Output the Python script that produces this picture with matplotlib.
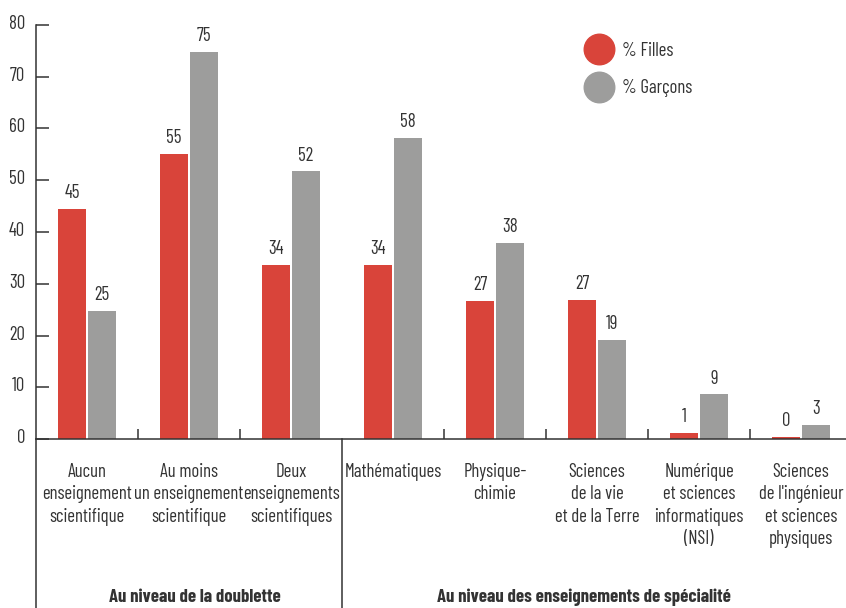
import matplotlib
matplotlib.use("Agg")
import matplotlib.pyplot as plt
from matplotlib.lines import Line2D
from matplotlib.transforms import ScaledTranslation

plt.rcParams['font.family'] = ['Barlow Condensed', 'DejaVu Sans']

categories = ["Aucun\nenseignement\nscientifique",
              "Au moins\nun enseignement\nscientifique",
              "Deux\nenseignements\nscientifiques",
              "Mathématiques",
              "Physique-\nchimie",
              "Sciences\nde la vie\net de la Terre",
              "Numérique\net sciences\ninformatiques\n(NSI)",
              "Sciences\nde l'ingénieur\net sciences\nphysiques"]
filles = [44.4, 55.1, 33.6, 33.6, 26.7, 26.8, 1.2, 0.4]
garcons = [24.7, 74.8, 51.7, 58.1, 37.8, 19.2, 8.6, 2.7]
filles_lab = ["45", "55", "34", "34", "27", "27", "1", "0"]
garcons_lab = ["25", "75", "52", "58", "38", "19", "9", "3"]
groups = ["Au niveau de la doublette", "Au niveau des enseignements de spécialité"]

RED = "#d9443a"
GREY = "#9d9d9c"
TXT = "#333333"
FS = 13.5

W, H = 846, 608
fig = plt.figure(figsize=(W / 100, H / 100), dpi=100)
ax = fig.add_axes([36 / W, 169 / H, 816 / W, 414 / H])

x = list(range(len(categories)))
bw = 0.275
off = 0.147
ax.bar([i - off for i in x], filles, bw, color=RED)
ax.bar([i + off for i in x], garcons, bw, color=GREY)

for i in x:
    ax.annotate(filles_lab[i], (i - off, filles[i]), xytext=(0, 5), textcoords="offset points",
                ha="center", va="bottom", fontsize=FS, color=TXT)
    ax.annotate(garcons_lab[i], (i + off, garcons[i]), xytext=(0, 5), textcoords="offset points",
                ha="center", va="bottom", fontsize=FS, color=TXT)

ax.set_xlim(-0.5, 7.5)
ax.set_ylim(0, 80)
for s in ["top", "right"]:
    ax.spines[s].set_visible(False)
for s in ["left", "bottom"]:
    ax.spines[s].set_color(TXT)
    ax.spines[s].set_linewidth(1.1)

ax.set_yticks(range(0, 81, 10))
ax.tick_params(axis="y", direction="in", length=9, width=1.1, color=TXT, pad=8,
               labelsize=FS, labelcolor=TXT)
for lab in ax.get_yticklabels():
    lab.set_transform(lab.get_transform() + ScaledTranslation(0, 3 / 100, fig.dpi_scale_trans))

ax.set_xticks(x)
ax.set_xticklabels(categories, fontsize=FS, color=TXT, va="top", linespacing=1.32)
ax.tick_params(axis="x", which="major", length=0, pad=17)
ax.set_xticks([0.5, 1.5, 3.5, 4.5, 5.5, 6.5], minor=True)
ax.tick_params(axis="x", which="minor", direction="in", length=7.5, width=1.1, color=TXT)

# lignes verticales sous l'axe
tr = ax.get_xaxis_transform()
ax.plot([-0.5, -0.5], [0, -169 / 414], transform=tr, color=TXT, lw=1.1, clip_on=False)
ax.plot([2.5, 2.5], [0, -169 / 414], transform=tr, color=TXT, lw=1.1, clip_on=False)

ax.text(1.06, -158 / 414, groups[0], transform=tr, ha="center", va="center",
        fontsize=FS, fontweight="bold", color=TXT)
ax.text(4.87, -158 / 414, groups[1], transform=tr, ha="center", va="center",
        fontsize=FS, fontweight="bold", color=TXT)

handles = [Line2D([], [], marker="o", ls="", ms=22, color=RED),
           Line2D([], [], marker="o", ls="", ms=22, color=GREY)]
ax.legend(handles, ["% Filles", "% Garçons"], loc="upper left", bbox_to_anchor=(0.658, 0.978),
          frameon=False, fontsize=FS, labelcolor=TXT, handletextpad=0.2, labelspacing=1.05,
          borderaxespad=0)

fig.savefig("out.png", dpi=100)
